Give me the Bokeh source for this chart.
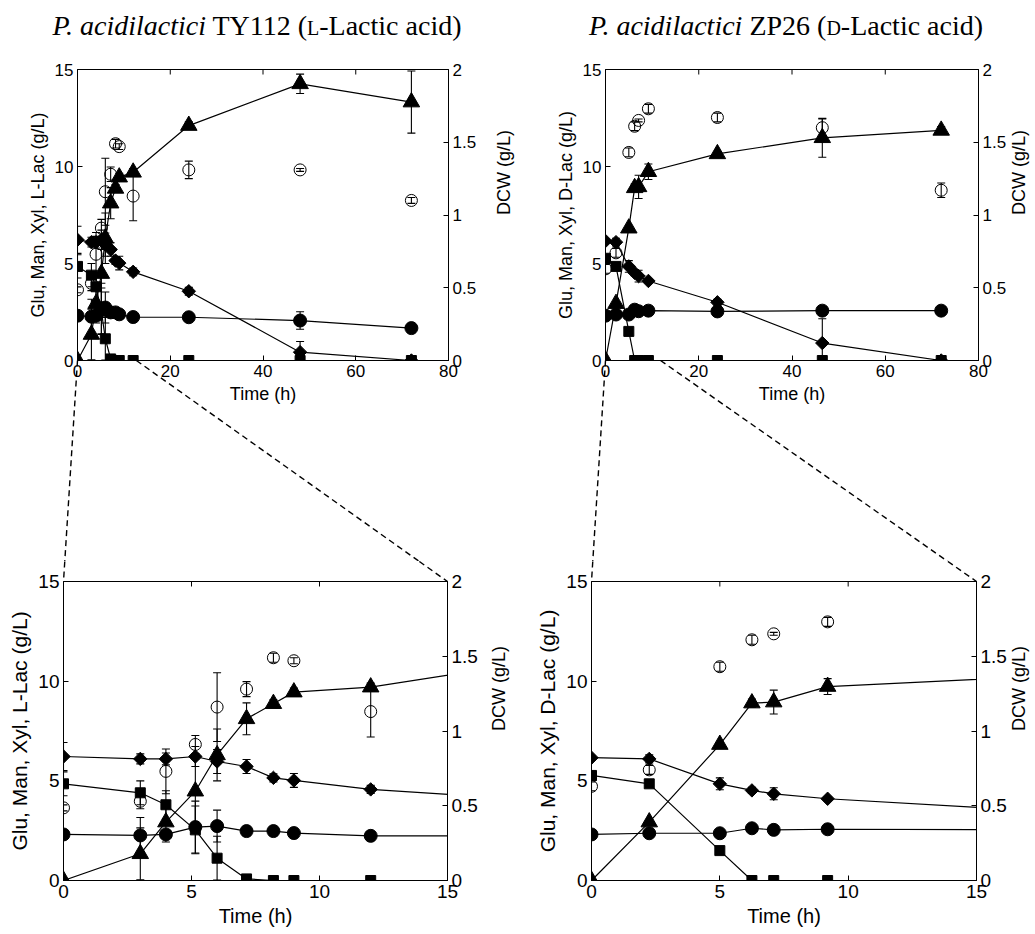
import numpy as np
from bokeh.plotting import figure
from bokeh.models import Range1d, LinearAxis, FixedTicker, Div
from bokeh.layouts import column, row
from bokeh.embed import file_html
from bokeh.resources import INLINE

# ---------------- data: P. acidilactici TY112 (L-lactic acid) ----------------
ty_time = [0, 3, 4, 5.15, 6, 7.15, 8.2, 9, 12, 24, 48, 72]
ty_xyl = [6.22, 6.10, 6.10, 6.22, 5.97, 5.72, 5.15, 5.02, 4.57, 3.57, 0.43, 0.0]
ty_xyl_err = [0.7, 0.25, 0.3, 0.5, 0.6, 0.35, 0.2, 0.35, 0.2, 0.2, 0.55, 0.1]
ty_glu = [4.85, 4.40, 3.80, 2.54, 1.12, 0.08, 0, 0, 0, 0, 0, 0]
ty_glu_err = [0.6, 0.6, 0.7, 1.2, 1.1, 0, 0, 0, 0, 0, 0, 0]
ty_man = [2.31, 2.26, 2.31, 2.68, 2.73, 2.48, 2.48, 2.38, 2.24, 2.23, 2.06, 1.67]
ty_man_err = [0.1, 0.9, 0.2, 1.3, 0.8, 0.1, 0.05, 0.05, 0.05, 0.05, 0.45, 0.05]
ty_lac = [0.0, 1.34, 2.93, 4.48, 6.30, 8.11, 8.87, 9.45, 9.70, 12.11, 14.26, 13.32]
ty_lac_err = [0, 1.3, 1.0, 1.6, 1.3, 0.8, 0.2, 0.2, 0.2, 0.2, 0.5, 1.6]
ty_dcw = [0.486, 0.53, 0.73, 0.91, 1.16, 1.28, 1.49, 1.47, 1.13, 1.31, 1.31, 1.10]
ty_dcw_err = [0.02, 0.05, 0.15, 0.06, 0.23, 0.05, 0.03, 0.02, 0.17, 0.06, 0.01, 0.02]

# ---------------- data: P. acidilactici ZP26 (D-lactic acid) ----------------
zp_time = [0, 2.25, 5, 6.25, 7.1, 9.2, 24, 46.5, 72]
zp_xyl = [6.16, 6.10, 4.85, 4.52, 4.35, 4.10, 3.00, 0.90, 0.0]
zp_xyl_err = [0.1, 0.2, 0.3, 0.15, 0.3, 0.1, 0.15, 1.25, 0.1]
zp_glu = [5.27, 4.85, 1.50, 0, 0, 0, 0, 0, 0]
zp_glu_err = [0.1, 0.1, 0.1, 0, 0, 0, 0, 0, 0]
zp_man = [2.31, 2.37, 2.37, 2.62, 2.54, 2.57, 2.53, 2.57, 2.57]
zp_man_err = [0.05, 0.05, 0.05, 0.05, 0.05, 0.05, 0.05, 0.05, 0.05]
zp_lac = [0.0, 2.93, 6.82, 8.90, 8.95, 9.73, 10.65, 11.48, 11.86]
zp_lac_err = [0, 0.1, 0.1, 0.2, 0.6, 0.4, 0.1, 1.0, 0.2]
zp_dcw = [0.63, 0.74, 1.43, 1.61, 1.65, 1.73, 1.67, 1.60, 1.17]
zp_dcw_err = [0.03, 0.03, 0.03, 0.03, 0.01, 0.03, 0.03, 0.06, 0.05]

left_ticks = [0, 5, 10, 15]
dcw_ticks = [0, 0.5, 1, 1.5, 2]
dcw_tick_labels = ["0", "0.5", "1", "1.5", "2"]
top_xticks = [0, 20, 40, 60, 80]
zoom_xticks = [0, 5, 10, 15]
Y_MAX = 15
DCW_MAX = 2

FONT = "Liberation Sans"

# ---------------- layout constants (pixels) ----------------
TITLE_H = 44
W_L, W_R = 530, 505
TOP_BT, TOP_FH, TOP_BB = 25, 291, 201
BOT_BT, BOT_FH, BOT_BB = 20, 299, 50
# per panel: (border_left, frame_width, border_right)
G_TL = (77, 371, 82)
G_TR = (75, 373, 57)
G_BL = (63, 384, 83)
G_BR = (61, 385, 59)


def style_axis(ax, tick_fs, lab_fs, lab_standoff=4):
    ax.axis_line_color = "black"
    ax.axis_line_width = 1
    ax.major_tick_line_color = "black"
    ax.major_tick_in = 5
    ax.major_tick_out = 0
    ax.minor_tick_line_color = None
    ax.major_label_text_font = FONT
    ax.major_label_text_font_size = f"{tick_fs}px"
    ax.major_label_text_color = "black"
    ax.major_label_standoff = 4
    ax.axis_label_text_font = FONT
    ax.axis_label_text_font_size = f"{lab_fs}px"
    ax.axis_label_text_font_style = "normal"
    ax.axis_label_text_color = "black"
    ax.axis_label_standoff = lab_standoff


def errbars(p, t, v, e, range_name=None):
    xs = [ti for ti, ei in zip(t, e) if ei > 0]
    lo = [vi - ei for vi, ei in zip(v, e) if ei > 0]
    hi = [vi + ei for vi, ei in zip(v, e) if ei > 0]
    kw = {} if range_name is None else {"y_range_name": range_name}
    p.segment(x0=xs, y0=lo, x1=xs, y1=hi, line_color="black", line_width=1.1, **kw)
    p.scatter(x=xs + xs, y=lo + hi, marker="dash", size=8, line_color="black",
              line_width=1.1, **kw)


def panel(t, xyl, xyl_e, glu, glu_e, man, man_e, lac, lac_e, dcw, dcw_e,
          xmax, xticks, ylabel, geom, fh, bt, bb, tick_fs, lab_fs, ylab_fs,
          dcw_fs, dcw_standoff):
    bl, fw, br = geom
    p = figure(frame_width=fw, frame_height=fh, x_range=Range1d(0, xmax),
               y_range=Range1d(0, Y_MAX), output_backend="svg", toolbar_location=None,
               min_border_left=bl, min_border_right=br, min_border_top=bt,
               min_border_bottom=bb, x_axis_label="Time (h)", y_axis_label=ylabel)
    p.extra_y_ranges = {"dcw": Range1d(0, DCW_MAX)}
    p.background_fill_color = "white"
    p.border_fill_color = "white"
    p.outline_line_color = "black"
    p.xgrid.visible = False
    p.ygrid.visible = False

    xa = p.below[0]
    ya = p.left[0]
    xa.ticker = FixedTicker(ticks=xticks)
    ya.ticker = FixedTicker(ticks=left_ticks)
    style_axis(xa, tick_fs, lab_fs)
    style_axis(ya, tick_fs, ylab_fs)

    ra = LinearAxis(y_range_name="dcw", axis_label="DCW  (g/L)",
                    ticker=FixedTicker(ticks=dcw_ticks),
                    major_label_overrides={float(k): s for k, s in zip(dcw_ticks, dcw_tick_labels)})
    style_axis(ra, tick_fs, dcw_fs, dcw_standoff)
    try:
        ra.axis_label_orientation = np.pi / 2
    except Exception:
        pass
    p.add_layout(ra, "right")

    # inward tick marks on the top edge (half of each dash is clipped by the frame)
    p.scatter(x=xticks, y=[Y_MAX] * len(xticks), marker="dash", angle=np.pi / 2,
              size=10, line_color="black", line_width=1)

    # lines
    for v in (xyl, glu, man, lac):
        p.line(t, v, line_color="black", line_width=1.2)
    # error bars
    for v, e in ((xyl, xyl_e), (glu, glu_e), (man, man_e), (lac, lac_e)):
        errbars(p, t, v, e)
    errbars(p, t, dcw, dcw_e, "dcw")
    # markers
    p.scatter(t, xyl, marker="square", angle=np.pi / 4, size=9.5,
              fill_color="black", line_color="black")
    p.scatter(t, glu, marker="square", size=10, fill_color="black", line_color="black")
    p.scatter(t, man, marker="circle", size=13, fill_color="black", line_color="black")
    p.scatter(t, lac, marker="triangle", size=16.5, fill_color="black", line_color="black")
    p.scatter(t, dcw, marker="circle", size=12, fill_color=None, line_color="black",
              line_width=1, y_range_name="dcw")
    return p


tl = panel(ty_time, ty_xyl, ty_xyl_err, ty_glu, ty_glu_err, ty_man, ty_man_err,
           ty_lac, ty_lac_err, ty_dcw, ty_dcw_err, 80, top_xticks,
           "Glu, Man, Xyl, L-Lac (g/L)", G_TL, TOP_FH, TOP_BT, TOP_BB,
           17, 18, 18, 18, 25)
tr = panel(zp_time, zp_xyl, zp_xyl_err, zp_glu, zp_glu_err, zp_man, zp_man_err,
           zp_lac, zp_lac_err, zp_dcw, zp_dcw_err, 80, top_xticks,
           "Glu, Man, Xyl, D-Lac (g/L)", G_TR, TOP_FH, TOP_BT, TOP_BB,
           17, 18, 18, 18, 10)
bl = panel(ty_time, ty_xyl, ty_xyl_err, ty_glu, ty_glu_err, ty_man, ty_man_err,
           ty_lac, ty_lac_err, ty_dcw, ty_dcw_err, 15, zoom_xticks,
           "Glu, Man, Xyl, L-Lac (g/L)", G_BL, BOT_FH, BOT_BT, BOT_BB,
           19, 20, 21, 18, 18)
br = panel(zp_time, zp_xyl, zp_xyl_err, zp_glu, zp_glu_err, zp_man, zp_man_err,
           zp_lac, zp_lac_err, zp_dcw, zp_dcw_err, 15, zoom_xticks,
           "Glu, Man, Xyl, D-Lac (g/L)", G_BR, BOT_FH, BOT_BT, BOT_BB,
           19, 20, 21, 18, 9)

# ---------------- zoom connectors (dashed) ----------------
top_y = TITLE_H + TOP_BT
bot_y = TITLE_H + TOP_BT + TOP_FH + TOP_BB + BOT_BT
junction = TITLE_H + TOP_BT + TOP_FH + TOP_BB
# frames in page pixels: (left, top, width, height, xmax)
F_TL = (G_TL[0], top_y, G_TL[1], TOP_FH, 80)
F_TR = (W_L + G_TR[0], top_y, G_TR[1], TOP_FH, 80)
F_BL = (G_BL[0], bot_y, G_BL[1], BOT_FH, 15)
F_BR = (W_L + G_BR[0], bot_y, G_BR[1], BOT_FH, 15)


def to_data(px, py, f):
    left, top, w, h, xmax = f
    return (px - left) / w * xmax, (top + h - py) / h * Y_MAX


def connect(ptop, ftop, pbot, fbot, start_x_data, corner):
    left, top, w, h, xmax = ftop
    sx = left + start_x_data / xmax * w
    sy = top + h
    bl_, bt_, bw_, bh_, _ = fbot
    ex = bl_ if corner == "left" else bl_ + bw_
    ey = bt_
    s = (junction - sy) / (ey - sy)
    jx = sx + (ex - sx) * s
    x0, y0 = to_data(sx, sy, ftop)
    x1, y1 = to_data(jx, junction, ftop)
    ptop.segment(x0=[x0], y0=[y0], x1=[x1], y1=[y1], line_color="black",
                 line_width=1.4, line_dash="6 4", level="overlay")
    x2, y2 = to_data(jx, junction, fbot)
    x3, y3 = to_data(ex, ey, fbot)
    pbot.segment(x0=[x2], y0=[y2], x1=[x3], y1=[y3], line_color="black",
                 line_width=1.4, line_dash="6 4", level="overlay")


connect(tl, F_TL, bl, F_BL, 0, "left")
connect(tl, F_TL, bl, F_BL, 12.7, "right")
connect(tr, F_TR, br, F_BR, 0, "left")
connect(tr, F_TR, br, F_BR, 11.8, "right")


# ---------------- titles ----------------
def title_div(html, w, ml):
    return Div(text=(f'<div style="font-family:\'Liberation Serif\',serif;font-size:28px;'
                     f'line-height:28px;color:black;text-align:center;width:470px;'
                     f'margin-left:{ml}px;padding-top:12px;white-space:nowrap;">{html}</div>'),
               width=w, height=TITLE_H, margin=0)


t_left = title_div('<i>P. acidilactici</i> TY112 (<span style="font-size:20px">L</span>-Lactic acid)', W_L, 22)
t_right = title_div('<i>P. acidilactici</i> ZP26 (<span style="font-size:20px">D</span>-Lactic acid)', W_R, 21)

layout = column(row(t_left, t_right), row(tl, tr), row(bl, br))
open("out.html", "w").write(file_html(layout, INLINE))
